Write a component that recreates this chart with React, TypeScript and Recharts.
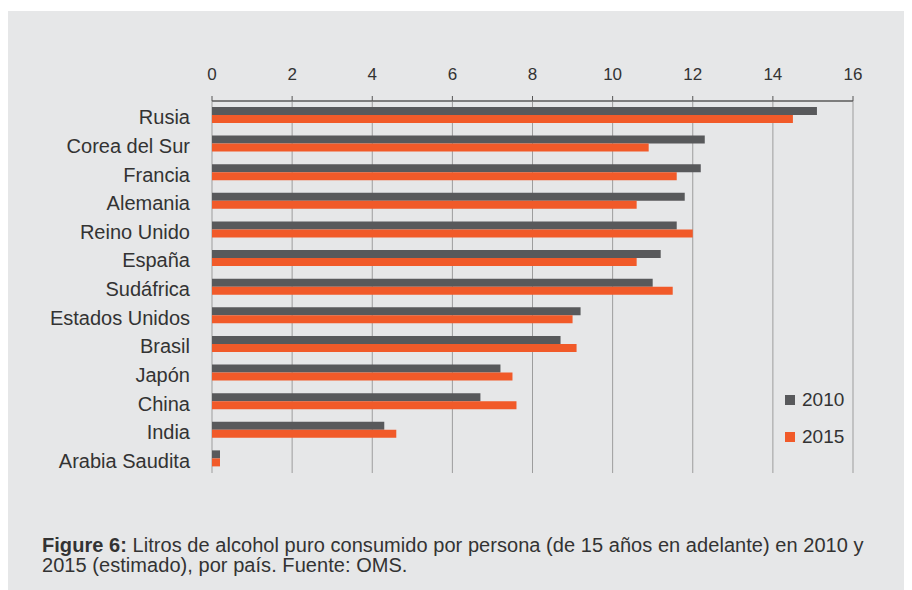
import { Bar, BarChart, CartesianGrid, Legend, XAxis, YAxis } from "recharts";

// Países (de arriba a abajo)
const countries = [
  "Rusia",
  "Corea del Sur",
  "Francia",
  "Alemania",
  "Reino Unido",
  "España",
  "Sudáfrica",
  "Estados Unidos",
  "Brasil",
  "Japón",
  "China",
  "India",
  "Arabia Saudita",
];

// Litros de alcohol puro por persona
const values2010 = [15.1, 12.3, 12.2, 11.8, 11.6, 11.2, 11.0, 9.2, 8.7, 7.2, 6.7, 4.3, 0.2];
const values2015 = [14.5, 10.9, 11.6, 10.6, 12.0, 10.6, 11.5, 9.0, 9.1, 7.5, 7.6, 4.6, 0.2];

const xTicks = [0, 2, 4, 6, 8, 10, 12, 14, 16];

const data = countries.map((country, i) => ({
  country,
  y2010: values2010[i],
  y2015: values2015[i],
}));

const FONT = '"Liberation Sans", Arial, Helvetica, sans-serif';
const GREY = "#58595b";
const ORANGE = "#f15a29";

// legend drawn from the payload that Recharts passes in
const renderLegend = (props: any) => {
  const { payload } = props;
  return (
    <div>
      {(payload || []).map((entry: any) => (
        <div
          key={entry.value}
          style={{ display: "flex", alignItems: "center", height: 37 }}
        >
          <span
            style={{
              display: "inline-block",
              width: 10,
              height: 10,
              background: entry.color,
              marginRight: 7,
            }}
          />
          <span style={{ fontSize: 19, color: "#333", fontFamily: FONT }}>
            {entry.value}
          </span>
        </div>
      ))}
    </div>
  );
};

export default function App() {
  return (
    <div
      style={{
        position: "relative",
        width: 904,
        height: 579,
        marginTop: 3,
        background: "#e6e7e8",
        fontFamily: FONT,
      }}
    >
      <BarChart
        width={904}
        height={480}
        data={data}
        layout="vertical"
        margin={{ top: 0, right: 59, bottom: 18, left: 0 }}
        barGap={0}
        barSize={8}
      >
        <CartesianGrid vertical horizontal={false} stroke="#9d9d9d" />
        <XAxis
          type="number"
          orientation="top"
          domain={[0, 16]}
          ticks={xTicks}
          interval={0}
          height={90}
          axisLine={{ stroke: "#7d7d7d", strokeWidth: 2 }}
          tickLine={{ stroke: "#555" }}
          tickSize={5}
          tickMargin={16}
          tick={{ fill: "#333", fontSize: 17, fontFamily: FONT }}
        />
        <YAxis
          type="category"
          dataKey="country"
          width={204}
          axisLine={false}
          tickLine={false}
          tickSize={0}
          tickMargin={22}
          interval={0}
          tick={{ fill: "#333", fontSize: 20, fontFamily: FONT, dy: 2 }}
        />
        <Legend
          layout="vertical"
          content={renderLegend}
          wrapperStyle={{
            position: "absolute",
            left: 777,
            top: 370,
            width: 80,
            height: 0,
            overflow: "visible",
          }}
        />
        <Bar dataKey="y2010" name="2010" fill={GREY} isAnimationActive={false} />
        <Bar dataKey="y2015" name="2015" fill={ORANGE} isAnimationActive={false} />
      </BarChart>
      <div
        style={{
          position: "absolute",
          left: 34,
          top: 524,
          width: 870,
          fontSize: 20,
          letterSpacing: 0.05,
          lineHeight: "20px",
          color: "#333",
        }}
      >
        <b>Figure 6:</b> Litros de alcohol puro consumido por persona (de 15 años en adelante) en 2010 y
        <br />
        2015 (estimado), por país. Fuente: OMS.
      </div>
    </div>
  );
}
